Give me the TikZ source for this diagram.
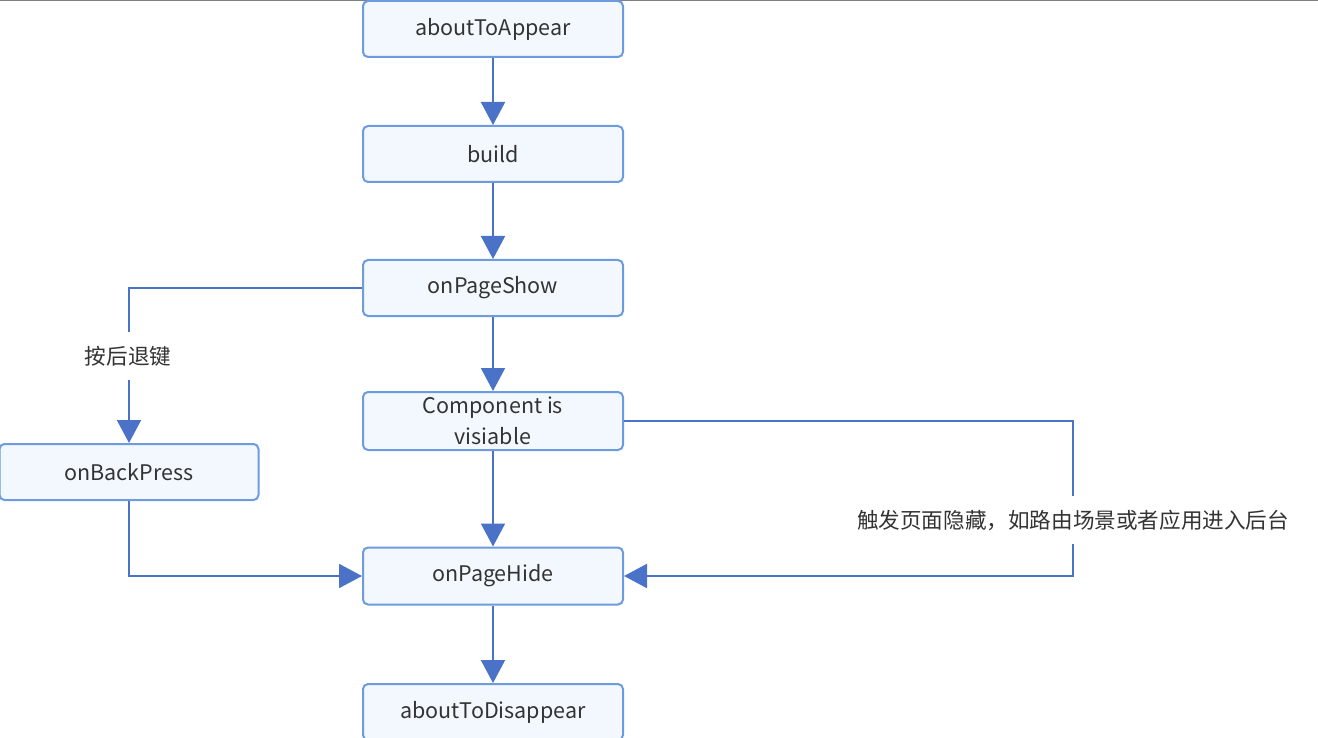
\documentclass[tikz,border=0pt]{standalone}
\usepackage{fontspec}
\setmainfont{Noto Sans CJK SC}
\usetikzlibrary{arrows.meta}
\definecolor{boxborder}{HTML}{6C9BE0}
\definecolor{boxfill}{HTML}{F2F8FD}
\definecolor{linecol}{HTML}{4A72C6}
\definecolor{txt}{HTML}{333333}
\tikzset{
  stepbox/.style={draw=boxborder, fill=boxfill, line width=2pt, rounded corners=5pt,
    minimum width=260pt, minimum height=56pt, inner sep=0pt, text=txt, align=center,
    font=\fontsize{21.5}{30.5}\selectfont},
  conn/.style={draw=linecol, line width=2pt},
  arr/.style={conn, -{Triangle[length=23pt,width=24pt]}},
  lbl/.style={fill=white, text=txt, font=\fontsize{21.6}{24}\selectfont, inner xsep=2pt, inner ysep=14pt}
}
\begin{document}
\begin{tikzpicture}[x=1pt,y=-1pt]
\useasboundingbox (0,0) rectangle (1318,738);
\draw[gray, line width=1.5pt] (0,0.5) -- (1318,0.5);
\node[stepbox] (appear) at (493,29) {aboutToAppear};
\node[stepbox] (build) at (493,154) {build};
\node[stepbox] (show) at (493,288) {onPageShow};
\node[stepbox, minimum height=58pt] (comp) at (493,421) {Component is\\visiable};
\node[stepbox, minimum height=57pt] (hide) at (493,576) {onPageHide};
\node[stepbox] (disappear) at (493,712) {aboutToDisappear};
\node[stepbox, minimum width=259pt] (back) at (129,472) {onBackPress};
\coordinate (lc) at (129,288);
\coordinate (bc) at (129,576);
\coordinate (rc1) at (1073,421);
\coordinate (rc2) at (1073,576);
\draw[arr] (appear) -- (build);
\draw[arr] (build) -- (show);
\draw[arr] (show) -- (comp);
\draw[arr] (comp) -- (hide);
\draw[arr] (hide) -- (disappear);
\draw[arr] (show.west) -- (lc) -- (back.north);
\draw[arr] (back.south) -- (bc) -- (hide.west);
\draw[arr] (comp.east) -- (rc1) -- (rc2) -- (hide.east);
\node[lbl] (l1) at (128,356) {按后退键};
\node[lbl] (l2) at (1073,520) {触发页面隐藏，如路由场景或者应用进入后台};
\end{tikzpicture}
\end{document}
